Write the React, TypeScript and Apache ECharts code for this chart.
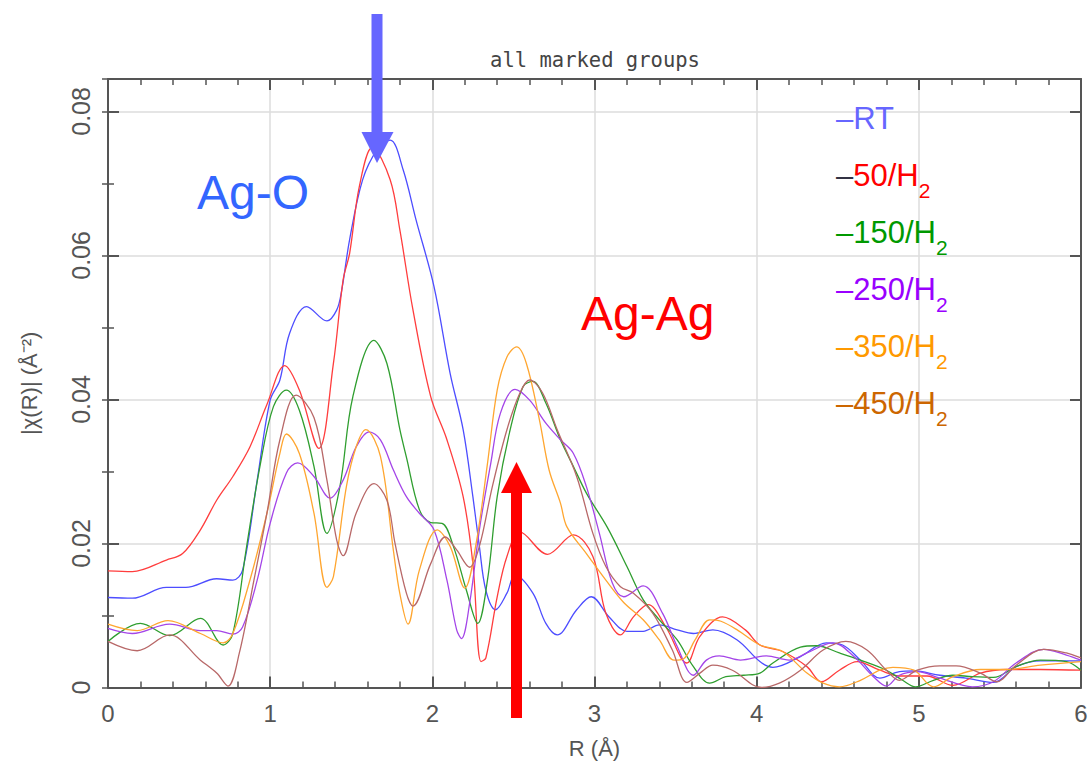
import React, { useEffect, useRef } from "react";
import * as echarts from "echarts";

// ---- data (R in Å, |chi(R)| in Å^-2) ----
const R_RT = [0,0.15,0.36,0.48,0.67,0.77,0.83,0.92,1.0,1.06,1.12,1.225,1.35,1.41,1.44,1.49,1.57,1.66,1.74,1.82,1.90,2.01,2.11,2.19,2.25,2.29,2.33,2.39,2.46,2.51,2.62,2.70,2.77,2.89,2.98,3.09,3.20,3.30,3.40,3.51,3.61,3.73,3.88,4.02,4.10,4.27,4.43,4.53,4.64,4.76,4.88,4.97,5.13,5.29,5.46,5.60,5.75,6.0];
const V_RT = [0.0125,0.0124,0.0139,0.0139,0.0151,0.0149,0.0163,0.0288,0.0399,0.0427,0.0492,0.0529,0.0509,0.0524,0.0550,0.0622,0.0705,0.0747,0.0760,0.0719,0.0649,0.0557,0.0436,0.0358,0.0265,0.0196,0.0135,0.0108,0.0131,0.0156,0.0131,0.0089,0.0073,0.0108,0.0126,0.0098,0.0078,0.0078,0.0087,0.0080,0.0075,0.0080,0.0066,0.0036,0.0028,0.0043,0.0062,0.0059,0.0038,0.0013,0.0022,0.0023,0.0017,0.0013,0.0007,0.0029,0.0037,0.0037];

const R_50 = [0,0.15,0.36,0.46,0.57,0.67,0.77,0.875,0.98,1.09,1.18,1.30,1.39,1.45,1.49,1.55,1.63,1.74,1.80,1.88,1.99,2.09,2.19,2.25,2.30,2.33,2.40,2.46,2.54,2.71,2.87,2.99,3.07,3.16,3.24,3.33,3.44,3.57,3.65,3.79,3.93,4.02,4.16,4.31,4.40,4.51,4.62,4.76,4.88,5.05,5.21,5.38,5.54,5.75,6.0];
const V_50 = [0.0162,0.0161,0.0177,0.0186,0.0219,0.0260,0.0293,0.0334,0.0393,0.0447,0.0413,0.0332,0.0450,0.0566,0.0603,0.0696,0.0750,0.0705,0.0635,0.0525,0.0404,0.0344,0.0265,0.0172,0.0036,0.0041,0.0126,0.0182,0.0216,0.0185,0.0212,0.0182,0.0103,0.0073,0.0098,0.0115,0.0084,0.0034,0.0071,0.0098,0.0080,0.0059,0.0050,0.0029,0.0008,0.0024,0.0036,0.0024,0.0016,0.0016,0.0003,0.0020,0.0025,0.0025,0.0024];

const R_150 = [0,0.2,0.38,0.57,0.71,0.77,0.855,0.94,1.02,1.10,1.18,1.27,1.35,1.43,1.51,1.64,1.72,1.80,1.84,1.92,1.99,2.06,2.13,2.21,2.28,2.34,2.40,2.48,2.56,2.62,2.70,2.79,2.87,2.95,3.08,3.20,3.30,3.40,3.51,3.61,3.71,3.81,3.92,4.02,4.10,4.27,4.37,4.51,4.64,4.80,4.90,4.98,5.09,5.21,5.33,5.46,5.60,5.75,5.91,6.0];
const V_150 = [0.0064,0.0089,0.0072,0.0096,0.0059,0.0075,0.0196,0.0311,0.0390,0.0413,0.0385,0.0307,0.0214,0.0279,0.0404,0.0482,0.0450,0.0358,0.0320,0.0247,0.0229,0.0228,0.0196,0.0135,0.0089,0.0149,0.0265,0.0358,0.0418,0.0425,0.0395,0.0344,0.0307,0.0270,0.0222,0.0168,0.0122,0.0094,0.0066,0.0029,0.0006,0.0015,0.0017,0.0020,0.0034,0.0056,0.0058,0.0048,0.0038,0.0024,0.0010,0.0001,0.0010,0.0017,0.0015,0.0014,0.0029,0.0038,0.0036,0.0024];

const R_250 = [0,0.15,0.38,0.57,0.67,0.77,0.83,0.92,1.0,1.10,1.17,1.27,1.37,1.45,1.53,1.61,1.68,1.76,1.84,1.92,2.01,2.09,2.15,2.18,2.23,2.29,2.36,2.42,2.51,2.60,2.70,2.79,2.87,2.95,3.03,3.11,3.18,3.30,3.42,3.51,3.61,3.69,3.77,3.90,4.06,4.20,4.31,4.47,4.60,4.72,4.80,4.88,4.99,5.13,5.33,5.46,5.60,5.77,5.91,6.0];
const V_250 = [0.0082,0.0075,0.0088,0.0079,0.0079,0.0074,0.0084,0.0149,0.0228,0.0298,0.0312,0.0293,0.0263,0.0288,0.0334,0.0355,0.0344,0.0302,0.0265,0.0242,0.0219,0.0149,0.0080,0.0068,0.0117,0.0219,0.0311,0.0381,0.0414,0.0399,0.0367,0.0344,0.0325,0.0279,0.0214,0.0145,0.0126,0.0141,0.0103,0.0057,0.0017,0.0038,0.0044,0.0038,0.0044,0.0038,0.0048,0.0062,0.0043,0.0015,0.0002,0.0017,0.0022,0.0013,0.0001,0.0008,0.0034,0.0053,0.0045,0.0038];

const R_350 = [0,0.18,0.37,0.57,0.71,0.77,0.875,0.98,1.06,1.10,1.18,1.27,1.35,1.39,1.47,1.53,1.59,1.68,1.76,1.80,1.85,1.92,2.03,2.11,2.20,2.27,2.34,2.40,2.46,2.52,2.58,2.66,2.72,2.79,2.83,2.95,3.07,3.18,3.30,3.40,3.49,3.55,3.62,3.71,3.78,3.88,4.02,4.16,4.31,4.41,4.51,4.64,4.76,4.84,4.97,5.09,5.21,5.38,5.54,5.75,6.0];
const V_350 = [0.0088,0.0079,0.0093,0.0075,0.0062,0.0075,0.0149,0.0242,0.0325,0.0352,0.0325,0.0242,0.0139,0.0154,0.0279,0.0334,0.0358,0.0321,0.0190,0.0130,0.0088,0.0163,0.0219,0.0196,0.0138,0.0200,0.0311,0.0413,0.0459,0.0473,0.0450,0.0372,0.0302,0.0256,0.0223,0.0186,0.0149,0.0118,0.0094,0.0066,0.0038,0.0040,0.0066,0.0094,0.0092,0.0080,0.0059,0.0050,0.0020,0.0006,0.0001,0.0010,0.0024,0.0028,0.0024,0.0001,0.0015,0.0025,0.0025,0.0031,0.0036];

const R_450 = [0,0.18,0.38,0.57,0.67,0.74,0.81,0.90,0.98,1.06,1.16,1.27,1.35,1.41,1.45,1.53,1.64,1.72,1.77,1.84,1.88,1.99,2.08,2.15,2.23,2.29,2.37,2.46,2.54,2.60,2.68,2.77,2.89,2.99,3.07,3.16,3.24,3.36,3.48,3.57,3.65,3.73,3.85,4.03,4.14,4.27,4.41,4.55,4.68,4.80,4.88,4.99,5.13,5.23,5.38,5.48,5.60,5.77,5.91,6.0];
const V_450 = [0.0064,0.0051,0.0073,0.0038,0.0020,0.0002,0.0048,0.0149,0.0242,0.0344,0.0406,0.0375,0.0288,0.0205,0.0183,0.0242,0.0283,0.0260,0.0200,0.0131,0.0113,0.0172,0.0209,0.0191,0.0167,0.0196,0.0279,0.0358,0.0409,0.0427,0.0409,0.0358,0.0293,0.0214,0.0168,0.0140,0.0131,0.0103,0.0052,0.0007,0.0020,0.0031,0.0024,0.0000,0.0006,0.0024,0.0052,0.0064,0.0052,0.0024,0.0010,0.0024,0.0030,0.0030,0.0020,0.0008,0.0031,0.0053,0.0048,0.0041];

const SERIES_NAMES = ["RT", "50/H2", "150/H2", "250/H2", "350/H2", "450/H2"];
const SERIES_R = [R_RT, R_50, R_150, R_250, R_350, R_450];
const SERIES_V = [V_RT, V_50, V_150, V_250, V_350, V_450];
const LINE_COLORS = ["#4d4dff", "#ff3d3d", "#2f9e2f", "#a445e8", "#ffa630", "#b86868"];

// legend labels
const LEGEND_MAIN = ["RT", "50/H", "150/H", "250/H", "350/H", "450/H"];
const LEGEND_SUB = ["", "2", "2", "2", "2", "2"];
const LEGEND_COLORS = ["#6666ff", "#ff0000", "#009900", "#9900ff", "#ff9900", "#cc6600"];
const LEGEND_DASH_COLORS = ["#6666ff", "#333344", "#009900", "#9900ff", "#ff9900", "#cc6600"];

const X_MIN = 0, X_MAX = 6, X_STEP = 1;
const Y_MIN = 0, Y_MAX = 0.0845, Y_STEP = 0.02, Y_MINOR = 0.01;

const FONT = "'Liberation Sans', Arial, sans-serif";

function pairs(r: number[], v: number[]) {
  const n = Math.min(r.length, v.length);
  const out: number[][] = [];
  for (let i = 0; i < n; i++) out.push([r[i], v[i]]);
  return out;
}

export default function App() {
  const ref = useRef<HTMLDivElement>(null);
  useEffect(() => {
    const chart = echarts.init(ref.current!, null, { renderer: "svg" });
    const frame = { color: "#555555", width: 2 };
    const majorTick = { show: true, inside: true, length: 11, lineStyle: { color: "#555555", width: 2 } };
    const minorTickStyle = { color: "#555555", width: 1.5 };

    const legendEls = LEGEND_MAIN.map((m, i) => ({
      type: "text",
      x: 836,
      y: 103 + i * 57,
      z: 100,
      style: {
        text: "{d|–}{m|" + m + "}" + (LEGEND_SUB[i] ? "{s|" + LEGEND_SUB[i] + "}" : ""),
        align: "left",
        verticalAlign: "top",
        rich: {
          d: { fontSize: 31, lineHeight: 36, verticalAlign: "top", fill: LEGEND_DASH_COLORS[i], fontFamily: FONT },
          m: { fontSize: 31, lineHeight: 36, verticalAlign: "top", fill: LEGEND_COLORS[i], fontFamily: FONT },
          s: { fontSize: 21, lineHeight: 21, verticalAlign: "top", padding: [20, 0, 0, 0], fill: LEGEND_COLORS[i], fontFamily: FONT },
        },
      },
    }));

    const option: any = {
      animation: false,
      backgroundColor: "#ffffff",
      grid: { left: 108, right: 8, top: 79, bottom: 76.5, containLabel: false, outerBoundsMode: "none" },
      xAxis: [
        {
          type: "value", min: X_MIN, max: X_MAX, interval: X_STEP, position: "bottom",
          axisLine: { show: true, onZero: false, lineStyle: frame },
          axisTick: majorTick,
          minorTick: { show: true, splitNumber: 5, length: 6, lineStyle: minorTickStyle },
          splitLine: { show: true, lineStyle: { color: "#dcdcdc", width: 1.5 } },
          axisLabel: { fontSize: 24, color: "#555555", margin: 14, fontFamily: FONT },
          name: "R (Å)", nameLocation: "middle", nameGap: 50, nameMoveOverlap: false,
          nameTextStyle: { fontSize: 22, color: "#555555", fontFamily: FONT },
        },
        {
          type: "value", min: X_MIN, max: X_MAX, interval: X_STEP, position: "top",
          axisLine: { show: true, onZero: false, lineStyle: frame },
          axisTick: majorTick,
          minorTick: { show: true, splitNumber: 5, length: 6, lineStyle: minorTickStyle },
          splitLine: { show: false }, axisLabel: { show: false },
        },
      ],
      yAxis: [
        {
          type: "value", min: Y_MIN, max: Y_MAX, interval: Y_STEP, position: "left",
          axisLine: { show: true, onZero: false, lineStyle: frame },
          axisTick: majorTick,
          splitLine: { show: true, lineStyle: { color: "#dcdcdc", width: 1.5 } },
          axisLabel: {
            rotate: 90, fontSize: 25, color: "#555555", margin: 15, fontFamily: FONT, showMaxLabel: false,
            formatter: (v: number) => (v === 0 ? "0" : v.toFixed(2)),
          },
          name: "|χ(R)| (Å⁻²)", nameLocation: "middle", nameRotate: 90, nameGap: 68, nameMoveOverlap: false,
          nameTextStyle: { fontSize: 22, color: "#555555", fontFamily: FONT },
        },
        {
          type: "value", min: Y_MIN, max: Y_MAX, interval: Y_MINOR, position: "left",
          axisLine: { show: false },
          axisTick: { show: true, inside: true, length: 6, lineStyle: minorTickStyle },
          splitLine: { show: false }, axisLabel: { show: false },
        },
        {
          type: "value", min: Y_MIN, max: Y_MAX, interval: Y_STEP, position: "right",
          axisLine: { show: true, onZero: false, lineStyle: frame },
          axisTick: majorTick,
          splitLine: { show: false }, axisLabel: { show: false },
        },
        {
          type: "value", min: Y_MIN, max: Y_MAX, interval: Y_MINOR, position: "right",
          axisLine: { show: false },
          axisTick: { show: true, inside: true, length: 6, lineStyle: minorTickStyle },
          splitLine: { show: false }, axisLabel: { show: false },
        },
      ],
      series: SERIES_NAMES.map((name, i) => ({
        name,
        type: "line",
        xAxisIndex: 0,
        yAxisIndex: 0,
        data: pairs(SERIES_R[i], SERIES_V[i]),
        showSymbol: false,
        symbol: "none",
        smooth: 0.35,
        lineStyle: { color: LINE_COLORS[i], width: 1.3 },
        z: 3 + i,
      })),
      graphic: [
        {
          type: "text", x: 595, y: 60, z: 100,
          style: { text: "all marked groups", fontFamily: "'DejaVu Sans Mono', monospace", fontSize: 20.5, fill: "#444444", align: "center", verticalAlign: "middle" },
        },
        {
          type: "text", x: 197, y: 192, z: 100,
          style: { text: "Ag-O", fontFamily: FONT, fontSize: 48, fill: "#3366ff", align: "left", verticalAlign: "middle" },
        },
        {
          type: "text", x: 581, y: 313, z: 100,
          style: { text: "Ag-Ag", fontFamily: FONT, fontSize: 48, fill: "#ff0000", align: "left", verticalAlign: "middle" },
        },
        // blue arrow (down)
        { type: "rect", z: 100, shape: { x: 371.5, y: 14, width: 11, height: 120 }, style: { fill: "#6666ff" } },
        { type: "polygon", z: 100, shape: { points: [[361.5, 132], [393.5, 132], [377, 163]] }, style: { fill: "#6666ff" } },
        // red arrow (up)
        { type: "rect", z: 100, shape: { x: 511, y: 490, width: 11, height: 228 }, style: { fill: "#ff0000" } },
        { type: "polygon", z: 100, shape: { points: [[501, 493], [532, 493], [516.5, 462]] }, style: { fill: "#ff0000" } },
        ...legendEls,
      ],
    };
    chart.setOption(option);
    return () => chart.dispose();
  }, []);
  return (
    <div
      ref={ref}
      style={{ position: "fixed", left: 0, top: 0, width: 1089, height: 764, background: "#ffffff" }}
    />
  );
}
